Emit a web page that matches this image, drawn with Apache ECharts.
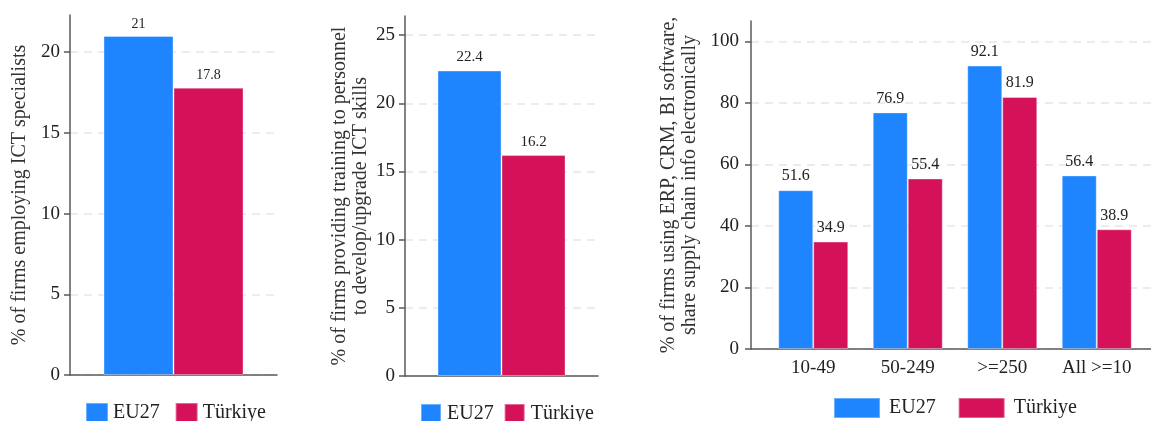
<!DOCTYPE html>
<html>
<head>
<meta charset="utf-8">
<script src="https://cdn.jsdelivr.net/npm/echarts@6/dist/echarts.min.js"></script>
<style>
  html, body { margin: 0; padding: 0; background: #ffffff; }
  #chart { width: 1151px; height: 421px; }
</style>
</head>
<body>
<div id="chart"></div>
<script>
// ---- data ----
const seriesNames = ['EU27', 'Türkiye'];
const ictSpecialistsEU = [21.0];
const ictSpecialistsTR = [17.8];
const ictTrainingEU = [22.4];
const ictTrainingTR = [16.2];
const sizeClasses = ['10-49', '50-249', '>=250', 'All >=10'];
const softwareEU = [51.6, 76.9, 92.1, 56.4];
const softwareTR = [34.9, 55.4, 81.9, 38.9];
const ticks1 = [0, 5, 10, 15, 20];
const ticks2 = [0, 5, 10, 15, 20, 25];
const ticks3 = [0, 20, 40, 60, 80, 100];
const title1 = '% of firms employing ICT specialists';
const title2 = '% of firms providing training to personnel\nto develop/upgrade ICT skills';
const title3 = '% of firms using ERP, CRM, BI software,\nshare supply chain info electronically';

// ---- styles ----
const FONT = 'Liberation Serif';
const BLUE = '#1e85ff';
const RED = '#d41159';
const axisLineStyle = { color: '#5a5a5a', width: 1.5 };
const splitLineStyle = { color: '#e6e6e6', width: 1.5, type: [8, 6] };

function yAxisCfg(grid, max, interval, ticks, name, nameGap, labelMargin) {
  return {
    type: 'value', gridIndex: grid, min: 0, max: max, interval: interval,
    name: name, nameLocation: 'middle', nameGap: nameGap,
    nameTextStyle: { fontFamily: FONT, fontSize: 20, color: '#333', lineHeight: 21 },
    axisLine: { show: true, lineStyle: axisLineStyle },
    axisTick: { show: true, length: 6, lineStyle: axisLineStyle, customValues: ticks },
    axisLabel: { fontFamily: FONT, fontSize: 19, color: '#222', margin: labelMargin,
      showMaxLabel: false,
      formatter: function (v) { return ticks.indexOf(v) >= 0 ? String(v) : ''; } },
    splitLine: { show: true, lineStyle: splitLineStyle }
  };
}

function barSeries(name, color, x, y, data, width, labelSize, labelDist) {
  return {
    type: 'bar', name: name, xAxisIndex: x, yAxisIndex: y, data: data,
    barWidth: width, barGap: '0%',
    itemStyle: { color: color, borderColor: 'rgba(255,255,255,0.35)', borderWidth: 1 },
    label: { show: true, position: 'top', distance: labelDist, fontFamily: FONT, fontSize: labelSize, color: '#222' },
    emphasis: { disabled: true }
  };
}

function legendCfg(left, top, w, h, gap, pad) {
  return {
    data: seriesNames, left: left, top: top, orient: 'horizontal',
    itemWidth: w, itemHeight: h, itemGap: gap, icon: 'rect', padding: 0,
    textStyle: { fontFamily: FONT, fontSize: 20, color: '#222', padding: pad },
    selectedMode: false
  };
}

const chart = echarts.init(document.getElementById('chart'), null, { renderer: 'canvas' });
const option = {
  animation: false,
  backgroundColor: '#ffffff',
  textStyle: { fontFamily: FONT },
  grid: [
    { left: 70, top: 15, width: 207, height: 360 },
    { left: 405, top: 16, width: 193, height: 360 },
    { left: 751, top: 21, width: 400, height: 328 },
    { left: 766, top: 21, width: 378, height: 328 }
  ],
  xAxis: [
    { type: 'category', gridIndex: 0, data: [''], axisLine: { lineStyle: axisLineStyle }, axisTick: { show: false }, axisLabel: { show: false } },
    { type: 'category', gridIndex: 1, data: [''], axisLine: { lineStyle: axisLineStyle }, axisTick: { show: false }, axisLabel: { show: false } },
    { type: 'category', gridIndex: 2, data: [''], axisLine: { lineStyle: axisLineStyle }, axisTick: { show: false }, axisLabel: { show: false } },
    { type: 'category', gridIndex: 3, data: sizeClasses, axisLine: { show: false }, axisTick: { show: false },
      axisLabel: { fontFamily: FONT, fontSize: 19, color: '#222', margin: 10 } }
  ],
  yAxis: [
    yAxisCfg(0, 22.3, 5, ticks1, title1, 40, 10),
    yAxisCfg(1, 26.4, 5, ticks2, title2, 34, 10),
    yAxisCfg(2, 106.6, 20, ticks3, title3, 51, 12),
    { type: 'value', gridIndex: 3, min: 0, max: 106.6, interval: 20, show: false }
  ],
  legend: [
    legendCfg(85, 402, 22, 20, 15, [0, 0, 0, 0]),
    legendCfg(420, 403, 20, 20, 10, [0, 0, 0, 1]),
    legendCfg(833, 397, 46, 20, 22, [0, 0, 0, 4])
  ],
  series: [
    barSeries(seriesNames[0], BLUE, 0, 0, ictSpecialistsEU, 70, 14, 5),
    barSeries(seriesNames[1], RED, 0, 0, ictSpecialistsTR, 70, 14, 5),
    barSeries(seriesNames[0], BLUE, 1, 1, ictTrainingEU, 64, 15, 6),
    barSeries(seriesNames[1], RED, 1, 1, ictTrainingTR, 64, 15, 6),
    barSeries(seriesNames[0], BLUE, 3, 3, softwareEU, 35, 16, 6),
    barSeries(seriesNames[1], RED, 3, 3, softwareTR, 35, 16, 6)
  ]
};
chart.setOption(option);
</script>
</body>
</html>
